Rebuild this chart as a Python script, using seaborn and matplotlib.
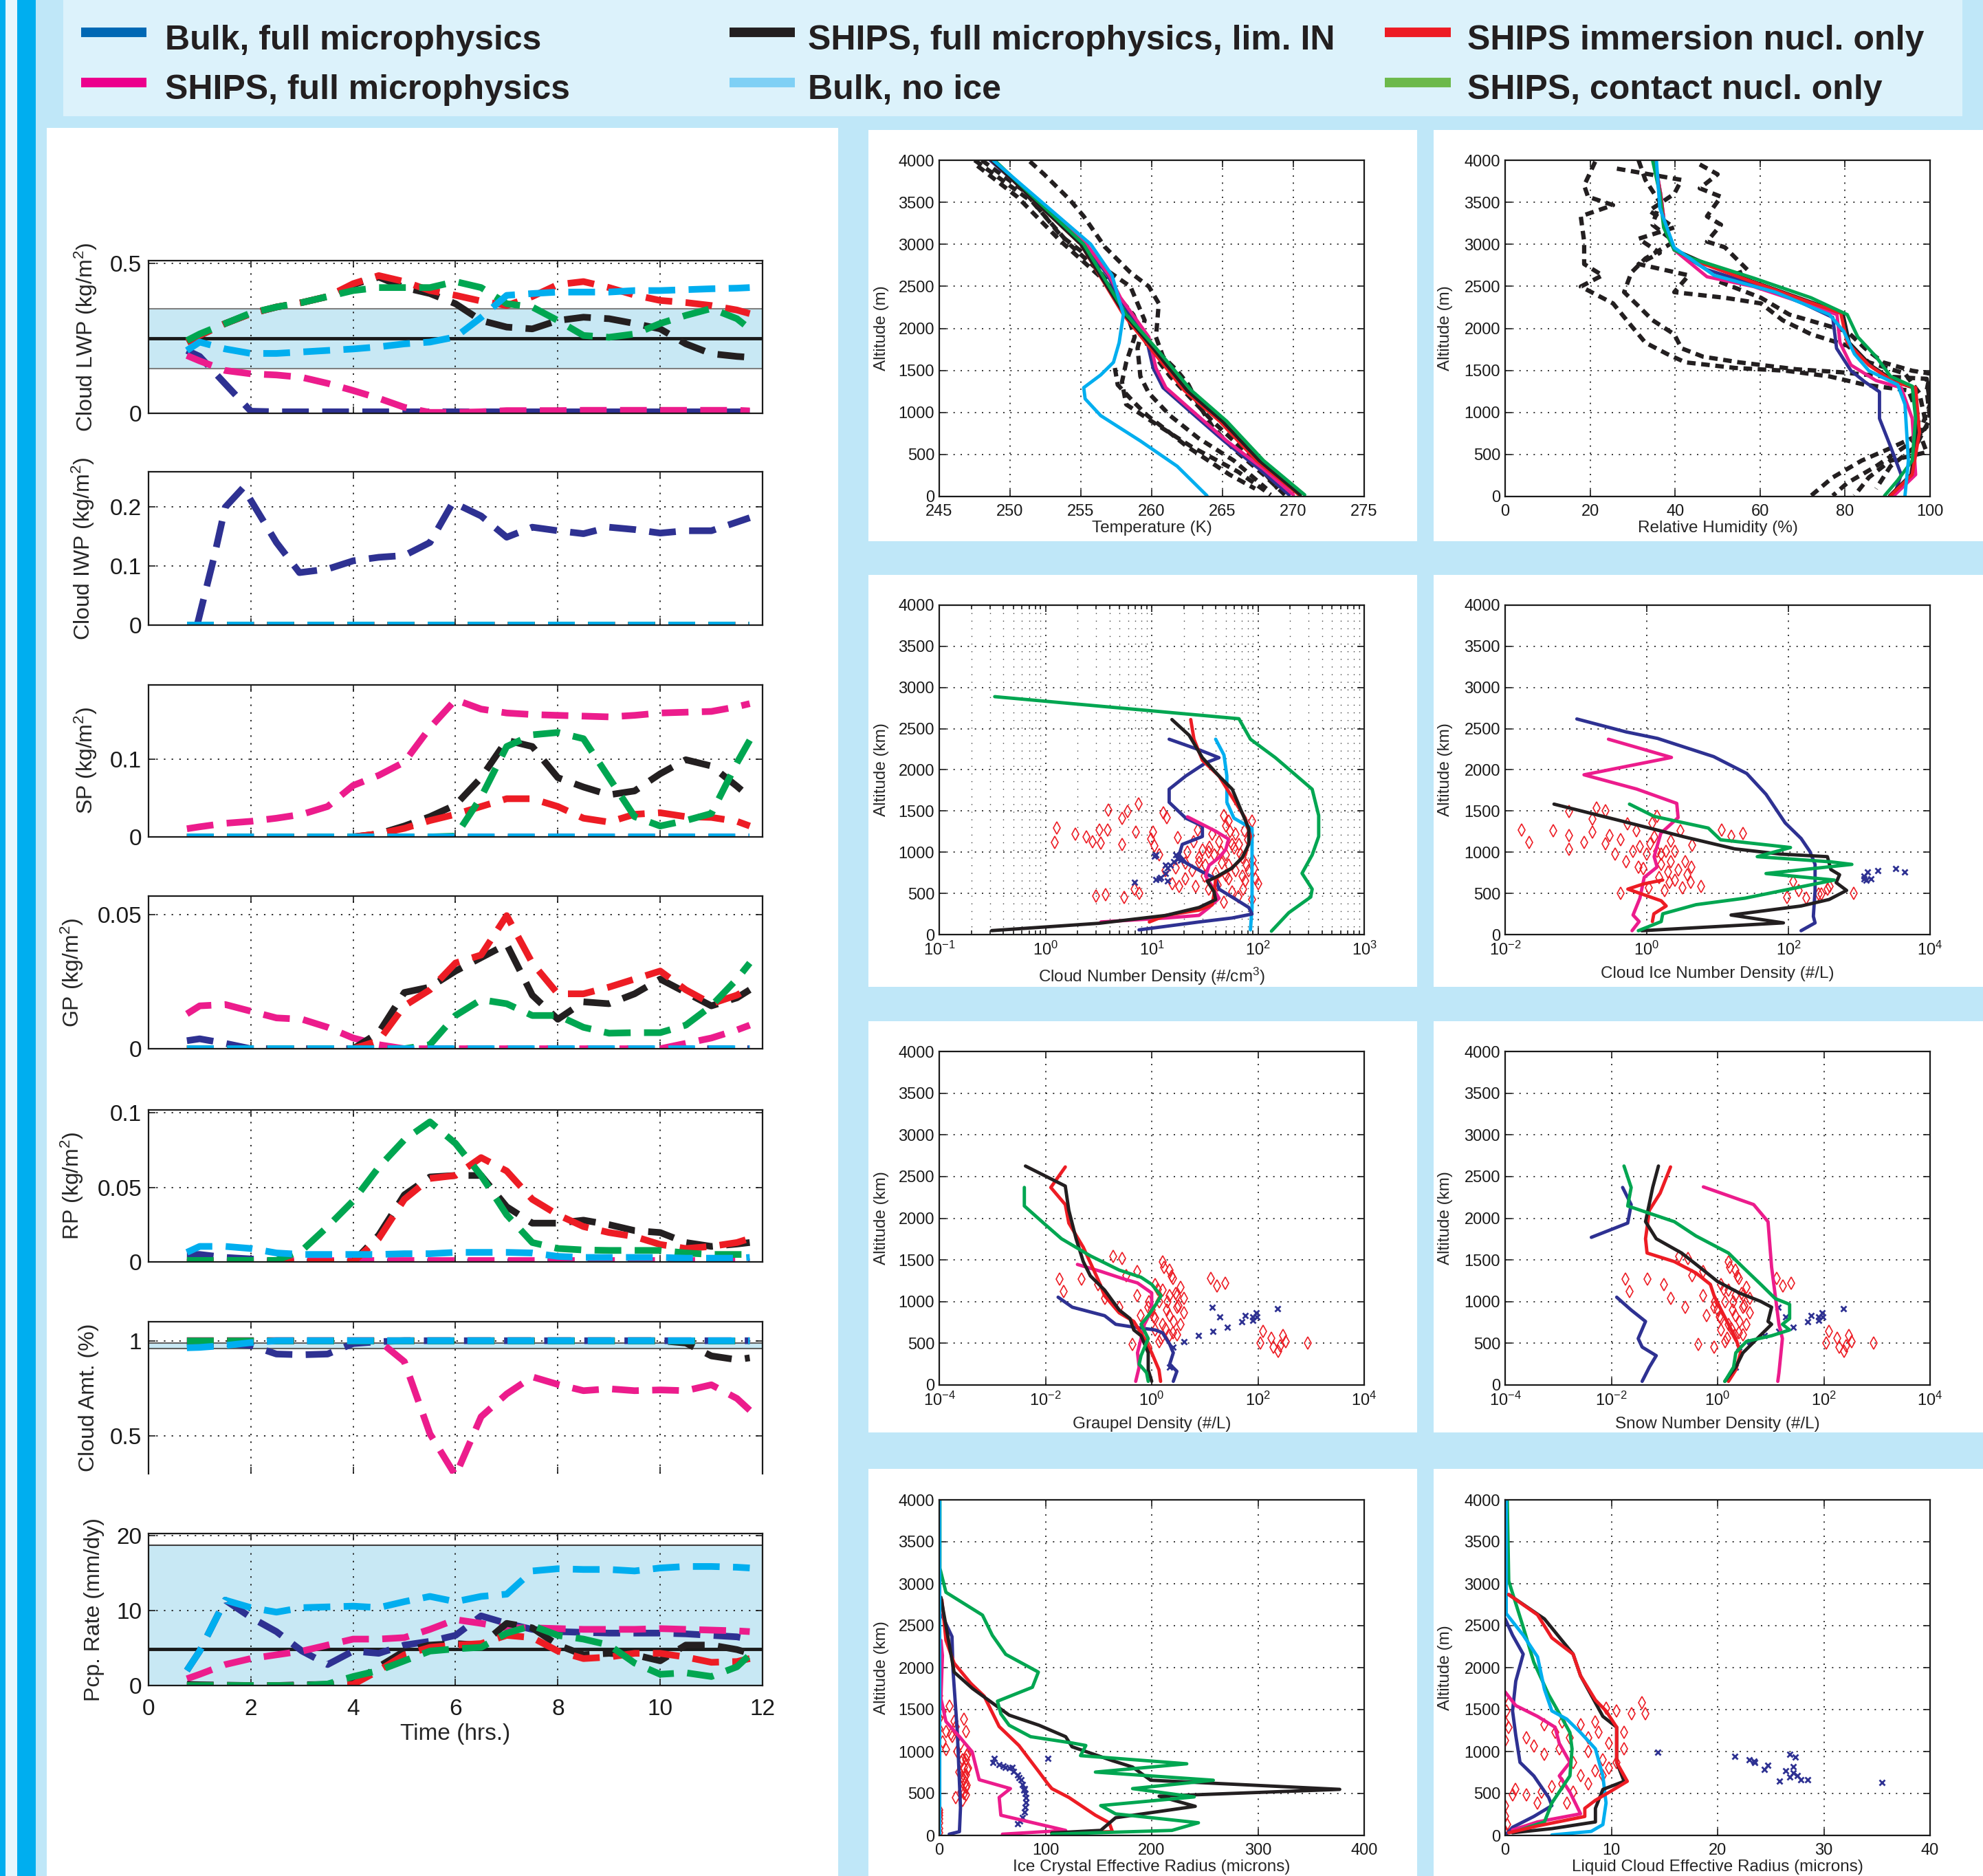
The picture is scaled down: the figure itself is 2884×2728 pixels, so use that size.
import matplotlib
matplotlib.use("Agg")
import matplotlib.pyplot as plt
import seaborn as sns
from matplotlib.patches import Rectangle
from matplotlib.lines import Line2D
from matplotlib.ticker import NullLocator

# ---------------------------------------------------------------- legend
LEG_LABELS = ["Bulk, full microphysics", "SHIPS, full microphysics",
              "SHIPS, full microphysics, lim. IN", "Bulk, no ice",
              "SHIPS immersion nucl. only", "SHIPS, contact nucl. only"]
LEG_COLORS = ["#0068b4", "#ec008c", "#231f20", "#7fd0f5", "#ed1c24", "#6cb94b"]

C_NAVY, C_MAG, C_BLK = "#2e3192", "#ec1c8c", "#231f20"
C_CYAN, C_RED, C_GRN = "#00aeef", "#ed1c24", "#00a651"

# ---------------------------------------------------------------- time series
T = [0.75, 1.0, 1.5, 2.0, 2.5, 3.0, 3.5, 4.0, 4.5, 5.0, 5.5, 6.0, 6.5, 7.0, 7.5, 8.0,
     8.5, 9.0, 9.5, 10.0, 10.5, 11.0, 11.5, 11.75]
ZERO = [0, 0, 0, 0, 0, 0, 0, 0, 0, 0, 0, 0, 0, 0, 0, 0, 0, 0, 0, 0, 0, 0, 0, 0]
ONE = [1, 1, 1, 1, 1, 1, 1, 1, 1, 1, 1, 1, 1, 1, 1, 1, 1, 1, 1, 1, 1, 1, 1, 1]

lwp_navy = [.21, .19, .098, .007, .005, .005, .005, .005, .005, .005, .005, .005, .005, .005, .005, .005, .005, .005, .005, .005, .005, .005, .005, .005]
lwp_mag = [.193, .175, .143, .132, .128, .12, .10, .076, .05, .02, .003, .003, .005, .009, .009, .009, .01, .01, .01, .01, .01, .01, .01, .008]
lwp_blk = [.238, .26, .30, .333, .355, .37, .39, .43, .455, .42, .40, .366, .31, .288, .282, .31, .321, .316, .30, .282, .232, .199, .19, .187]
lwp_red = [.238, .26, .30, .333, .355, .37, .39, .433, .46, .44, .41, .394, .375, .36, .39, .43, .44, .42, .395, .377, .37, .36, .345, .333]
lwp_grn = [.243, .265, .30, .335, .355, .37, .39, .41, .42, .42, .42, .44, .42, .366, .355, .31, .26, .254, .265, .30, .327, .35, .316, .282]
lwp_cyan = [.21, .238, .215, .20, .20, .205, .21, .215, .222, .232, .238, .255, .32, .394, .40, .405, .405, .405, .41, .41, .413, .416, .418, .42]
lwp_band = [0.15, 0.35]
lwp_mean = 0.25

t_iwp = [0.95, 1.28, 1.5, 1.85, 2.5, 2.95, 3.5, 4.0, 4.5, 5.0, 5.5, 5.95, 6.5, 7.0, 7.5,
         8.0, 8.5, 9.0, 9.5, 10.0, 10.5, 11.0, 11.75]
iwp_navy = [0.0, 0.115, 0.2, 0.233, 0.14, 0.089, 0.095, 0.109, 0.115, 0.118, 0.14, 0.208, 0.185, 0.149, 0.166, 0.16, 0.155, 0.166, 0.162, 0.156, 0.16, 0.16, 0.182]

sp_mag = [.0105, .013, .0175, .02, .024, .029, .039, .066, .079, .096, .14, .176, .164, .159, .157, .156, .155, .154, .156, .159, .16, .161, .167, .171]
sp_blk = [0, 0, 0, 0, 0, 0, 0, 0, .004, .014, .026, .041, .076, .124, .116, .076, .064, .054, .059, .081, .099, .091, .065, .051]
sp_grn = [0, 0, 0, 0, 0, 0, 0, 0, 0, 0, 0, .001, .051, .116, .131, .134, .126, .076, .026, .014, .021, .03, .095, .124]
sp_red = [0, 0, 0, 0, 0, 0, 0, 0, .004, .011, .021, .029, .039, .049, .049, .039, .024, .019, .029, .031, .026, .025, .02, .014]

gp_mag = [.013, .016, .0165, .014, .0115, .011, .008, .004, .0015, 0, 0, 0, 0, 0, 0, 0, 0, 0, 0, 0, .002, .004, .007, .0088]
gp_navy = [.003, .0037, .002, 0, 0, 0, 0, 0, 0, 0, 0, 0, 0, 0, 0, 0, 0, 0, 0, 0, 0, 0, 0, 0]
gp_blk = [0, 0, 0, 0, 0, 0, 0, 0, .006, .021, .023, .029, .034, .039, .02, .011, .0175, .0168, .0205, .026, .021, .016, .019, .022]
gp_red = [0, 0, 0, 0, 0, 0, 0, 0, .003, .016, .022, .032, .035, .0497, .032, .0205, .0205, .023, .026, .029, .022, .0168, .02, .0227]
gp_grn = [0, 0, 0, 0, 0, 0, 0, 0, 0, 0, .0015, .0124, .0183, .0168, .0124, .0124, .008, .0058, .006, .006, .0088, .016, .026, .032]

rp_grn = [.001, .001, .001, .001, .001, .0077, .0237, .041, .0636, .082, .094, .0795, .058, .0316, .013, .009, .008, .0077, .0077, .0077, .006, .005, .005, .005]
rp_blk = [0, 0, 0, 0, 0, 0, 0, 0, .018, .045, .057, .058, .058, .037, .026, .026, .028, .025, .021, .0197, .013, .0104, .012, .013]
rp_red = [0, 0, 0, 0, 0, 0, 0, 0, .0157, .042, .056, .058, .070, .061, .042, .0316, .0237, .0197, .017, .0117, .009, .0104, .013, .0157]
rp_cyan = [.0064, .0104, .0104, .009, .006, .005, .005, .005, .005, .0055, .0055, .0064, .0064, .0064, .006, .0037, .003, .003, .003, .003, .0025, .0025, .0025, .003]
rp_navy = [.005, .005, .003, .002, 0, 0, 0, 0, 0, 0, 0, 0, 0, 0, 0, 0, 0, 0, 0, 0, 0, 0, 0, 0]
rp_mag = [.001, .001, .001, .001, .001, .001, .001, .001, .001, .001, .001, .001, .001, .001, .001, .001, .001, .001, .001, .001, .001, .001, .001, .001]

ca_cyan = [.963, .965, .975, .99, 1, 1, 1, 1, 1, 1, 1, 1, 1, 1, 1, 1, 1, 1, 1, 1, 1, 1, 1, 1]
ca_navy = [.975, .978, .985, .975, .93, .926, .93, .985, .995, 1, 1, 1, 1, 1, 1, 1, 1, 1, 1, 1, 1, 1, 1, 1]
ca_mag = [1, 1, 1, 1, 1, 1, 1, 1, 1, .89, .51, .29, .6, .72, .81, .77, .737, .747, .737, .741, .737, .768, .696, .634]
ca_blk = [1, 1, 1, 1, 1, 1, 1, 1, 1, 1, 1, 1, 1, 1, 1, 1, 1, 1, 1, 1, .988, .92, .9, .91]
ca_band = [0.96, 0.987]

pcp_cyan = [2.0, 4.6, 11.4, 10.4, 9.8, 10.4, 10.5, 10.6, 10.4, 11.2, 11.9, 11.2, 11.9, 12.2, 15.3, 15.6, 15.5, 15.5, 15.3, 15.7, 15.9, 15.9, 15.8, 15.7]
pcp_navy = [2.0, 4.6, 11.4, 9.1, 7.2, 4.6, 2.8, 4.6, 4.3, 5.4, 5.9, 6.7, 9.3, 8.3, 7.5, 7.2, 7.1, 7.0, 7.0, 7.0, 6.9, 6.7, 6.5, 6.2]
pcp_mag = [0.9, 1.5, 2.8, 3.6, 4.1, 4.6, 5.4, 6.2, 6.2, 6.4, 7.5, 8.8, 8.3, 7.7, 7.7, 7.6, 7.5, 7.5, 7.5, 7.6, 7.5, 7.4, 7.3, 7.2]
pcp_blk = [0.15, 0.1, 0.05, 0, 0, 0.1, 0.15, 0.4, 2.5, 4.6, 5.4, 5.6, 5.4, 8.3, 7.7, 5.4, 4.1, 4.3, 4.1, 3.3, 5.4, 5.4, 4.8, 4.3]
pcp_red = [0, 0, 0, 0, 0, 0, 0, 0.15, 2.0, 4.1, 5.1, 5.4, 5.6, 6.7, 6.4, 4.6, 3.6, 3.8, 4.3, 4.3, 3.8, 3.1, 3.2, 3.6]
pcp_grn = [0, 0, 0, 0, 0, 0, 0.2, 1.2, 2.0, 3.3, 4.6, 4.9, 5.1, 7.0, 8.0, 6.7, 6.2, 5.4, 3.0, 1.5, 1.7, 1.2, 2.5, 4.1]
pcp_band = [0, 18.7]
pcp_mean = 4.9

# ---------------------------------------------------------------- temperature profiles
tm_grn_x = [248.9, 255.2, 258.2, 260.3, 262.8, 265.3, 267.9, 270.8]
tm_grn_z = [4000, 3000, 2165, 1765, 1262, 895, 427, 20]
tm_blk_x = [248.7, 255.0, 258.1, 260.1, 262.5, 265.0, 267.6, 270.5]
tm_red_x = [248.7, 255.0, 258.0, 259.9, 262.3, 264.8, 267.4, 270.4]
tm_mag_x = [248.7, 255.4, 257.0, 257.8, 259.8, 260.3, 261.0, 262.8, 265.3, 267.9, 270.0]
tm_mag_z = [4000, 3000, 2630, 2364, 1897, 1529, 1295, 1028, 661, 327, 20]
tm_navy_x = [248.6, 255.3, 256.9, 257.7, 259.6, 260.1, 260.8, 262.6, 265.1, 267.6, 269.7]
tm_cyan_x = [248.8, 255.7, 257.2, 258.0, 257.7, 257.3, 256.4, 255.2, 255.3, 256.4, 259.2, 261.8, 263.9]
tm_cyan_z = [4000, 3000, 2630, 2165, 1830, 1596, 1446, 1295, 1162, 962, 661, 360, 10]
to1_x = [247.5, 251.6, 254.2, 256.4, 258.0, 258.8, 258.2, 257.9, 258.2, 260.3, 262.8, 266.1, 268.4]
to1_z = [4000, 3500, 3000, 2664, 2300, 1900, 1596, 1362, 1095, 861, 594, 294, 20]
to2_x = [248, 251, 253.6, 256.2, 258.5, 259.5, 259, 259.2, 259.8, 261.3, 263.3, 265.8, 268.1]
to2_z = [4000, 3633, 3100, 2765, 2497, 2097, 1763, 1429, 1229, 962, 694, 427, 93]
to3_x = [251.4, 252.4, 254.2, 255.2, 256.7, 258.5, 259.8, 260.5, 260.3, 260.8, 261.8, 262.6, 263.3, 264.3, 265.8, 267.9, 269.4]
to3_z = [3985, 3833, 3533, 3333, 2967, 2664, 2497, 2297, 1897, 1663, 1496, 1329, 1095, 828, 561, 260, 20]
to4_x = [247.7, 250.5, 253.6, 256.7, 258.7, 259.8, 261.3, 262.8, 264.3, 265.8, 267.4, 268.9]
to4_z = [3933, 3566, 3033, 2564, 2164, 1763, 1429, 1162, 895, 661, 394, 93]
to5_x = [257.4, 257.6, 258.7, 259.7, 261, 262.5, 264, 265.5, 267.3]
to5_z = [1529, 1329, 1129, 962, 795, 594, 427, 260, 93]

# ---------------------------------------------------------------- relative humidity
rh_grn_x = [34.7, 36.4, 37.3, 39.8, 44, 58.5, 72, 80.5, 83, 87.3, 90.7, 95.8, 96.6, 95.8, 92.4, 89.3]
rh_grn_z = [4000, 3600, 3200, 2933, 2831, 2598, 2364, 2164, 1897, 1663, 1429, 1312, 928, 427, 194, 10]
rh_red_x = [35, 36.5, 37.5, 39.8, 45, 57.6, 70.5, 79, 80.5, 85.6, 91.5, 96.6, 97.5, 95.8, 90.7]
rh_red_z = [4000, 3600, 3200, 2933, 2798, 2564, 2331, 2180, 1830, 1563, 1362, 1295, 761, 260, 10]
rh_blk_x = [35, 36.5, 37.5, 40, 46, 58, 71, 79.5, 81, 86, 92, 96, 97, 95.5, 90.5]
rh_mag_x = [35.2, 36.6, 37.6, 39.8, 47.5, 58.5, 70.5, 78.1, 78.8, 81.4, 87.3, 93.2, 95.8, 96.6, 91.5]
rh_mag_z = [4000, 3600, 3200, 2933, 2614, 2497, 2297, 2164, 1830, 1563, 1379, 1295, 928, 260, 10]
rh_navy_x = [35.2, 36.6, 37.6, 39.8, 47.5, 60, 70, 77.1, 78, 81.4, 84.7, 88.1, 88.1, 90.7, 93.2, 91.5]
rh_navy_z = [4000, 3600, 3200, 2933, 2698, 2500, 2300, 2130, 1763, 1496, 1362, 1245, 928, 594, 260, 10]
rh_cyan_x = [35.6, 36.4, 39.8, 49.2, 63.6, 76.3, 79.7, 82.2, 85.6, 92.4, 94.1, 94.9, 94.1]
rh_cyan_z = [4000, 3433, 2960, 2631, 2431, 2164, 1964, 1696, 1496, 1329, 1095, 427, 10]
ro1_x = [21.2, 18.6, 19.5, 25.4, 17.8, 18.6, 18.6, 22.9, 17.8, 25.4, 29.7, 33, 38.1, 42.4, 54.2, 66.1, 76.3, 84.7, 94.9, 97.5, 96, 90, 83.9, 77.1, 72]
ro1_z = [3983, 3700, 3566, 3466, 3333, 3033, 2765, 2631, 2497, 2297, 2030, 1830, 1696, 1596, 1529, 1496, 1429, 1329, 1262, 928, 700, 560, 427, 227, 10]
ro2_x = [31.4, 33, 36.4, 34.7, 39.8, 33, 29.7, 28, 31.4, 34.7, 39.8, 41.5, 46.6, 55.1, 68.6, 78.8, 88.9, 99.2, 100, 97.5, 99.2, 90.7, 85.6, 82.2]
ro2_z = [4000, 3766, 3500, 3232, 3032, 2831, 2664, 2431, 2264, 2097, 1930, 1763, 1663, 1596, 1513, 1479, 1429, 1400, 1095, 761, 527, 427, 227, 10]
ro3_x = [45.8, 50, 45.8, 50.8, 47.5, 50.8, 47.5, 51.7, 57, 50, 60.2, 66.9, 73.7, 80.5, 84.7, 88.9, 95.8, 100, 99.2, 100, 96.6, 90.7, 87.3]
ro3_z = [3950, 3833, 3666, 3566, 3333, 3233, 3032, 2965, 2698, 2564, 2364, 2164, 2064, 1964, 1763, 1596, 1496, 1462, 1262, 928, 594, 360, 93]
ro4_x = [26.3, 41.5, 39.8, 33.9, 39.8, 31.4, 36.4, 31.4, 43.2, 39.8, 51.7, 60.2, 65.3, 72, 80.5, 85.6, 94.1, 97.5, 99.2, 94.1, 87.3, 80.5, 77.1]
ro4_z = [3900, 3766, 3600, 3400, 3200, 3066, 2898, 2765, 2631, 2431, 2364, 2297, 2097, 1930, 1796, 1596, 1462, 1229, 828, 594, 360, 160, 10]

# ---------------------------------------------------------------- cloud number density
cn_grn_x = [0.333, 66.2, 85, 146, 324, 373, 373, 324, 260, 324, 314, 195, 134]
cn_grn_z = [2889, 2621, 2372, 2148, 1765, 1446, 1191, 967, 744, 552, 456, 265, 41]
cn_blk_x = [15.5, 22.5, 30, 43, 57.3, 71, 82, 82, 71, 57, 40, 33.4, 38.6, 40, 27.9, 13.6, 3.2, 0.312]
cn_blk_z = [2611, 2420, 2148, 1925, 1765, 1478, 1286, 1095, 935, 808, 696, 648, 520, 425, 329, 233, 137, 48]
cn_red_x = [23.3, 25, 30, 43, 57, 76, 85, 76, 57, 40, 38.6, 37, 27.9, 13.6, 9.5]
cn_red_z = [2611, 2372, 2116, 1925, 1670, 1414, 1191, 967, 808, 680, 488, 361, 297, 233, 153]
cn_mag_x = [21.7, 40, 53, 49.7, 43, 34.7, 32.2, 37, 43, 34.7, 27.9, 13.6, 3.33]
cn_mag_z = [1430, 1255, 1159, 1031, 935, 840, 712, 584, 441, 329, 233, 201, 153]
cn_navy_x = [14.6, 27.9, 43, 32.2, 20.9, 14.6, 14.6, 20.9, 30, 30, 19.4, 18.1, 20.9, 30, 40, 43, 57, 82, 88, 57, 27.9, 7.6]
cn_navy_z = [2372, 2244, 2148, 2085, 1925, 1765, 1606, 1414, 1318, 1191, 1095, 967, 872, 760, 680, 552, 456, 329, 249, 201, 153, 57]
cn_cyan_x = [40, 47.9, 51, 51, 59.4, 88, 88, 88, 88, 85]
cn_cyan_z = [2372, 2180, 1925, 1606, 1414, 1286, 967, 648, 329, 57]
cn_obs_x = [1.28, 1.22, 1.91, 2.41, 2.78, 3.2, 3.33, 3.86, 3.9, 5.25, 5.94, 7.5, 5.3, 7.1, 2.99, 3.7, 5.5, 6.86, 7.6, 12.8,
            13.9, 10.3, 9.8, 10.6, 11.8, 13.5, 15.6, 16.8, 17.5, 21.7, 25, 27.9, 27, 32.2, 37, 38.6, 43, 47.9, 49.7, 55,
            53, 61.7, 66.2, 49.7, 53, 61.7, 71, 76, 78.5, 88, 95, 88, 57, 47.9, 34.7, 26, 20.9, 18.1, 31.3, 40,
            24.2, 20.9, 34.7, 30, 57, 71, 82, 73, 53, 46, 45, 60, 80, 90, 100, 65, 35, 42, 75, 92, 28, 50, 68, 85]
cn_obs_z = [1296, 1117, 1223, 1184, 1127, 1271, 1111, 1271, 1510, 1408, 1494, 1590, 1095, 1248, 466, 488, 450, 552, 504, 1478,
            1421, 1248, 1159, 1079, 967, 776, 616, 808, 1175, 999, 1127, 935, 1271, 840, 1223, 967, 1127, 1446, 1318, 1255,
            1382, 1223, 1095, 967, 840, 776, 712, 648, 840, 1382, 680, 424, 520, 392, 552, 584, 680, 584, 712, 744,
            776, 872, 999, 1031, 1095, 935, 776, 552, 680, 872, 1000, 1050, 1150, 900, 620, 460, 1060, 600, 1260, 800, 880, 720, 980, 1200]
cn_x_x = [10.6, 11, 11.8, 13.5, 14, 15, 16.2, 17.5, 18.7, 14, 12.2, 6.86, 16.8, 13.5, 11]
cn_x_z = [951, 664, 680, 744, 808, 840, 887, 919, 903, 648, 696, 632, 967, 840, 967]

# ---------------------------------------------------------------- cloud ice number density
ci_navy_x = [0.103, 0.51, 1.42, 8.8, 25.8, 48.3, 90, 151, 201, 238, 238, 225, 238, 151]
ci_navy_z = [2618, 2461, 2382, 2161, 1956, 1703, 1356, 1167, 1009, 852, 536, 221, 142, 47]
ci_mag_x = [0.288, 2.23, 0.13, 0.72, 2.65, 2.77, 1.58, 1.27, 1.4, 0.92, 0.8, 0.64, 0.78, 0.62]
ci_mag_z = [2372, 2151, 1940, 1767, 1593, 1420, 1230, 946, 820, 694, 442, 237, 158, 47]
ci_red_x = [1.68, 0.9, 0.54, 1.6, 1.88, 1.26, 1.2]
ci_red_z = [662, 615, 552, 410, 347, 252, 158]
ci_blk_x = [0.049, 0.4, 3.5, 17.4, 76, 355, 398, 528, 472, 663, 376, 151, 15.5, 85, 0.85]
ci_blk_z = [1584, 1388, 1183, 1041, 978, 946, 789, 726, 631, 536, 426, 347, 237, 142, 47]
ci_grn_x = [0.57, 1.27, 7.4, 11, 107, 36.3, 398, 787, 48.3, 445, 24.4, 4.96, 1.68, 1.6, 0.76]
ci_grn_z = [1584, 1435, 1293, 1151, 1057, 946, 883, 852, 741, 662, 442, 363, 252, 158, 47]
ci_obs_x = [0.017, 0.022, 0.048, 0.08, 0.08, 0.08, 0.13, 0.17, 0.17, 0.194, 0.26, 0.26, 0.3, 0.36, 0.43, 0.43, 0.51, 0.54, 0.64, 0.72,
            0.76, 0.8, 1.0, 1.07, 1.2, 1.27, 1.4, 1.4, 1.6, 1.78, 1.88, 2.0, 2.2, 2.5, 2.5, 3.0, 2.8, 3.2, 3.5, 3.7,
            4.2, 4.3, 4.4, 5.9, 11.5, 15.8, 23, 95, 117, 141, 178, 270, 355, 380, 290, 832, 1.12, 0.9, 1.5, 2.1, 1.6, 2.2]
ci_obs_z = [1268, 1120, 1262, 1498, 1035, 1199, 1120, 1246, 1404, 1539, 1505, 1104, 1199, 978, 1151, 505, 883, 1341, 1009, 1262,
            820, 1072, 978, 568, 1356, 1183, 1009, 1435, 852, 536, 1009, 757, 883, 662, 1009, 1262, 789, 568, 883, 726,
            631, 820, 1088, 584, 1268, 1192, 1224, 448, 647, 536, 442, 489, 552, 584, 489, 505, 1104, 804, 694, 631, 978, 1135]
ci_x_x = [1175, 1300, 1450, 1240, 1810, 3270, 4340, 1175]
ci_x_z = [710, 757, 678, 662, 773, 804, 757, 678]

# ---------------------------------------------------------------- graupel / snow
gr_blk_x = [0.0042, 0.0236, 0.0275, 0.0377, 0.0515, 0.070, 0.13, 0.245, 0.39, 0.46, 0.63, 0.86, 0.86, 1.0]
gr_blk_z = [2626, 2386, 2096, 1754, 1480, 1309, 1138, 899, 797, 660, 591, 386, 181, 44]
gr_red_x = [0.0236, 0.0126, 0.0236, 0.0275, 0.0515, 0.096, 0.13, 0.245, 0.46, 0.73, 1.0, 1.37, 1.47]
gr_red_z = [2615, 2369, 2164, 1942, 1651, 1275, 1070, 865, 762, 557, 386, 181, 44]
gr_grn_x = [0.004, 0.004, 0.0092, 0.02, 0.07, 0.245, 0.63, 1.0, 1.5, 1.2, 0.86, 0.63, 0.86, 0.63, 0.58, 0.8, 0.86]
gr_grn_z = [2369, 2147, 1942, 1754, 1549, 1378, 1292, 1207, 1070, 967, 831, 728, 557, 352, 250, 147, 44]
gr_mag_x = [0.04, 0.112, 0.287, 0.54, 1.0, 1.0, 0.73, 0.63, 0.54, 0.58, 0.5]
gr_mag_z = [1446, 1361, 1275, 1224, 1104, 899, 728, 557, 386, 215, 44]
gr_navy_x = [0.0173, 0.032, 0.13, 0.21, 0.46, 1.17, 1.6, 2.18, 2.55, 2.18, 2.98, 2.55]
gr_navy_z = [1053, 933, 831, 728, 694, 660, 626, 489, 386, 250, 164, 44]
gs_obs_x = [0.0183, 0.022, 0.048, 0.097, 0.19, 0.28, 0.33, 0.53, 0.13, 0.245, 0.43, 0.86, 1.17, 1.6, 2.2, 2.98, 4.07, 3.5, 2.55, 2.2,
            1.6, 1.17, 1.7, 3.5, 2.55, 4.07, 2.98, 0.86, 0.63, 0.54, 1.37, 1.9, 1.17, 2.2, 2.2, 1.37, 1.6, 13, 17, 24,
            126, 110, 195, 260, 300, 330, 875, 180, 240, 1.0, 1.3, 2.0, 2.6, 3.2, 1.8, 1.1, 2.4, 3.0, 1.5, 0.9, 2.8]
gs_obs_z = [1268, 1121, 1268, 1207, 1542, 1514, 1309, 1361, 1036, 933, 489, 455, 660, 728, 831, 933, 1036, 1173, 1275, 1378,
            1480, 1207, 1412, 728, 626, 865, 1070, 933, 831, 1070, 1002, 899, 797, 1070, 591, 523, 1138, 1275, 1190, 1224,
            643, 506, 455, 472, 591, 523, 506, 557, 403, 900, 1150, 1000, 760, 950, 680, 820, 1300, 600, 560, 1000, 1100]
gs_x_x = [2.2, 2.55, 4.07, 7.6, 14.2, 26.6, 49.5, 79, 92, 13.7, 19, 236, 58, 79, 97]
gs_x_z = [215, 455, 523, 591, 643, 694, 762, 814, 865, 933, 814, 916, 831, 779, 814]

sn_grn_x = [0.0173, 0.0236, 0.0203, 0.153, 0.39, 1.6, 3.0, 6.5, 12.2, 22.7, 22.7, 16.6, 22.7, 10.4, 3.5, 2.2, 2.0, 1.37]
sn_grn_z = [2626, 2369, 2147, 1959, 1788, 1583, 1412, 1207, 1036, 967, 797, 728, 660, 591, 523, 386, 215, 44]
sn_blk_x = [0.077, 0.06, 0.044, 0.07, 0.21, 0.54, 1.0, 2.55, 6.5, 10.4, 8.9, 10.4, 5.57, 3.0, 2.2, 1.37]
sn_blk_z = [2626, 2369, 1959, 1754, 1583, 1378, 1241, 1104, 1002, 933, 762, 728, 557, 386, 215, 44]
sn_red_x = [0.13, 0.083, 0.052, 0.044, 0.047, 0.153, 0.39, 0.73, 0.86, 1.17, 1.6, 2.2, 2.7, 2.2, 1.6]
sn_red_z = [2615, 2301, 2096, 1754, 1583, 1480, 1344, 1207, 1070, 899, 728, 557, 386, 181, 44]
sn_mag_x = [0.54, 4.77, 8.9, 10.4, 12.2, 14.3, 16.6, 14.3, 13.6]
sn_mag_z = [2376, 2164, 1959, 1412, 1070, 728, 557, 147, 44]
sn_navy1_x = [0.0163, 0.0236, 0.0203, 0.0042]
sn_navy1_z = [2369, 2164, 1942, 1771]
sn_navy2_x = [0.0126, 0.0236, 0.044, 0.032, 0.038, 0.07, 0.052, 0.038]
sn_navy2_z = [1053, 899, 762, 557, 455, 352, 215, 44]

# ---------------------------------------------------------------- ice crystal effective radius
ir_grn_x = [0.6, 0.6, 6.3, 40.7, 50, 62.6, 93.3, 87.7, 54.8, 58, 65.8, 86, 125, 138, 133, 233, 147, 258, 182, 240, 152, 166, 244, 219, 106]
ir_grn_z = [4000, 3185, 2898, 2626, 2385, 2158, 1947, 1766, 1600, 1449, 1313, 1177, 1102, 1072, 951, 854, 755, 658, 558, 459, 356, 257, 151, 60, 15]
ir_blk_x = [1.6, 14, 31.3, 65.8, 94, 119, 125, 163, 182, 199, 377, 207, 241, 166, 152, 106]
ir_blk_z = [2838, 1947, 1751, 1434, 1313, 1177, 1057, 891, 815, 658, 549, 468, 347, 211, 60, 30]
ir_red_x = [2.5, 6.3, 14, 29.8, 42.3, 56.4, 75, 94, 102, 106, 122, 147, 160, 163, 106]
ir_red_z = [2808, 2325, 2053, 1811, 1660, 1298, 1072, 755, 619, 558, 453, 241, 151, 45, 30]
ir_navy_x = [2.5, 12, 13, 15, 17, 19, 20, 19, 9.4]
ir_navy_z = [2626, 2370, 1962, 1600, 1238, 634, 332, 45, 15]
ir_mag_x = [1.6, 3, 1.6, 6.3, 19, 31, 37.6, 67, 56.4, 58, 119, 59.5]
ir_mag_z = [2325, 2143, 1630, 1358, 1177, 996, 664, 558, 453, 241, 60, 15]
ir_cyan_x = [0.6, 0.6]
ir_cyan_z = [4000, 0]
ir_x_x = [51.7, 56.4, 65.8, 73.6, 78.3, 81.4, 80.8, 78.3, 73.6, 102, 68.9, 76.7, 79.9, 81.4, 50.7, 60, 70, 75, 80, 81, 80, 76, 62]
ir_x_z = [921, 845, 800, 724, 604, 453, 332, 211, 136, 921, 815, 664, 543, 392, 870, 830, 760, 690, 560, 500, 280, 170, 810]
ir_obs_x = [0, 0, 0, 0, 0, 0, 0, 0, 3, 6.3, 9.4, 14, 12.5, 17, 20, 23.5, 25, 20.4, 23.5, 25, 24.4, 22, 25, 22, 15.7,
            26.6, 18.8, 23.5, 25, 20.4, 6.3, 11, 15.7, 3, 22, 26.6, 21.3, 26, 24, 27, 25, 23, 26, 0, 0, 0]
ir_obs_z = [30, 151, 241, 302, 1660, 1540, 1390, 1268, 1117, 1238, 1540, 1358, 1177, 996, 1087, 1389, 1238, 875, 815, 724, 634, 543, 483, 422, 453,
            966, 755, 664, 574, 513, 1026, 1208, 1298, 1479, 905, 785, 694, 600, 700, 800, 900, 500, 950, 80, 200, 270]

# ---------------------------------------------------------------- liquid cloud effective radius
lr_red_x = [0.34, 3.05, 4.4, 6.4, 7.1, 8.5, 9.5, 10.5, 10.5, 11.5, 9.8, 8.5, 7.5, 7.5, 3.05, 0.34]
lr_red_z = [2871, 2629, 2355, 2161, 1903, 1613, 1484, 1290, 871, 645, 516, 419, 323, 226, 113, 32]
lr_blk_x = [0.34, 3.7, 6.4, 7.1, 8.5, 9.2, 10.5, 10.5, 11.2, 9.2, 8.5, 8.5, 4.4, 0.7]
lr_blk_z = [2871, 2581, 2161, 1903, 1581, 1419, 1290, 871, 645, 548, 323, 161, 81, 32]
lr_grn_x = [0.2, 0.34, 1.7, 2.7, 4.1, 5.4, 6.1, 6.3, 6.1, 4.4, 3.7, 1.0]
lr_grn_z = [4000, 3032, 2484, 2065, 1677, 1387, 1226, 1032, 710, 387, 161, 48]
lr_cyan_x = [0.1, 0.1, 1.7, 3.05, 3.7, 4.4, 5.8, 7.1, 8.5, 9.2, 9.5, 9.2, 8.1, 4.4]
lr_cyan_z = [4000, 2645, 2387, 2129, 1742, 1484, 1387, 1226, 1032, 710, 387, 129, 48, 6]
lr_navy_x = [0, 0.7, 1.7, 1.0, 0.7, 1.0, 1.4, 2.7, 4.1, 4.4, 2.7, 0.7, 0]
lr_navy_z = [2581, 2387, 2161, 1839, 1484, 1194, 871, 710, 452, 355, 226, 97, 0]
lr_mag_x = [0, 1.0, 3.05, 4.7, 5.1, 6.1, 5.1, 6.1, 7.1, 3.05, 0.7]
lr_mag_z = [1710, 1548, 1419, 1290, 1097, 871, 710, 516, 258, 161, 65]
lr_x_x = [14.4, 21.6, 23, 23.5, 24.7, 24.4, 26.8, 27.3, 26.4, 27.1, 27.5, 26.8, 25.8, 27.8, 28.5, 35.5, 27.1, 23.4]
lr_x_z = [994, 942, 903, 871, 839, 790, 968, 935, 774, 823, 710, 694, 645, 661, 661, 629, 742, 887]
lr_obs_x = [0, 0.1, 0, 0, 0.3, 2.0, 2.7, 3.7, 4.7, 5.4, 7.1, 7.8, 8.5, 9.5, 10.5, 11.9, 12.9, 13.2, 11.2, 11.2,
            9.8, 9.2, 7.8, 6.4, 7.1, 8.5, 9.8, 5.4, 4.4, 3.4, 2.0, 0.7, 1.0, 3.05, 5.8, 6.4, 7.8, 9.2, 10.5, 0,
            0, 0.2, 0, 5.1, 3.7, 6.1, 8.8]
lr_obs_z = [1645, 1484, 1355, 1129, 1290, 1161, 1065, 1323, 1226, 1355, 1323, 1161, 1355, 1516, 1484, 1452, 1581, 1452, 1226, 1032,
            1097, 903, 1000, 871, 710, 774, 806, 613, 581, 516, 484, 484, 548, 387, 387, 516, 613, 710, 871, 355,
            226, 129, 48, 1032, 968, 1161, 1226]

# ================================================================= drawing
sns.set_theme(style="white")
plt.rcParams["font.family"] = ["Liberation Sans", "DejaVu Sans"]
plt.rcParams["mathtext.fontset"] = "custom"
plt.rcParams["mathtext.rm"] = "Liberation Sans"
plt.rcParams["mathtext.it"] = "Liberation Sans:italic"
plt.rcParams["mathtext.bf"] = "Liberation Sans:bold"
plt.rcParams["axes.axisbelow"] = True

W, H = 2884, 2728
BG = "#bfe7f8"
GRID_LS = (0, (1.2, 5))
fig = plt.figure(figsize=(W / 100, H / 100), dpi=100)
fig.patch.set_facecolor(BG)


def rect(x0, y0, x1, y1, color):
    fig.add_artist(Rectangle((x0 / W, 1 - y1 / H), (x1 - x0) / W, (y1 - y0) / H,
                             transform=fig.transFigure, facecolor=color,
                             edgecolor="none", zorder=-5))


def axpx(x0, y0, x1, y1):
    return fig.add_axes([x0 / W, 1 - y1 / H, (x1 - x0) / W, (y1 - y0) / H])


# background decoration
rect(0, 0, 8, H, "#00aeef")
rect(8, 0, 25, H, "#e8f7fd")
rect(25, 0, 52, H, "#00aeef")
rect(92, 0, 2854, 169, "#dcf2fb")
rect(68, 186, 1219, H, "white")
for (cx0, cx1) in [(1263, 2061), (2085, 2884)]:
    for (ry0, ry1) in [(189, 787), (836, 1435), (1485, 2083), (2136, H)]:
        rect(cx0, ry0, cx1, ry1, "white")

# legend
leg_pos = [(118, 213, 240, 47, 72), (118, 213, 240, 120, 144),
           (1061, 1156, 1175, 47, 72), (1061, 1156, 1175, 120, 144),
           (2014, 2110, 2134, 47, 72), (2014, 2110, 2134, 120, 144)]
for lab, col, (hx0, hx1, tx, hy, by) in zip(LEG_LABELS, LEG_COLORS, leg_pos):
    fig.add_artist(Line2D([hx0 / W, hx1 / W], [1 - hy / H, 1 - hy / H], transform=fig.transFigure,
                          color=col, lw=10, solid_capstyle="butt"))
    fig.text(tx / W, 1 - by / H, lab, fontsize=36, fontweight="bold", color="#231f20",
             ha="left", va="baseline", family=["Liberation Sans", "DejaVu Sans"])

DASH = (0, (4, 2))


def dline(ax, x, y, c, lw=7):
    sns.lineplot(x=x, y=y, ax=ax, color=c, linewidth=lw, linestyle=DASH,
                 dash_capstyle="butt", sort=False, estimator=None, errorbar=None, legend=False)


def sline(ax, x, y, c, lw=3.5):
    sns.lineplot(x=x, y=y, ax=ax, color=c, linewidth=lw, sort=False, estimator=None,
                 errorbar=None, legend=False)


def oline(ax, x, y):
    sns.lineplot(x=x, y=y, ax=ax, color=C_BLK, linewidth=4.5, linestyle=(0, (2, 1.3)),
                 dash_capstyle="butt", sort=False, estimator=None, errorbar=None, legend=False)


def style(ax, labelsize, pad):
    for s in ax.spines.values():
        s.set_color("k")
        s.set_linewidth(1.6)
    ax.tick_params(axis="both", which="both", direction="in", top=True, right=True,
                   bottom=True, left=True, length=7, width=1.2, color="k",
                   labelsize=labelsize, pad=pad, labelcolor="k")
    ax.set_facecolor("white")


# ------------------------------------------------------------- left panel
left_rows = [(379, 601), (686, 909), (996, 1217), (1303, 1525), (1614, 1835), (1922, 2143), (2230, 2451)]
left_lab = ["Cloud LWP (kg/m$^2$)", "Cloud IWP (kg/m$^2$)", "SP (kg/m$^2$)", "GP (kg/m$^2$)",
            "RP (kg/m$^2$)", "Cloud Amt. (%)", "Pcp. Rate (mm/dy)"]
left_labx = [-0.081, -0.085, -0.081, -0.103, -0.103, -0.081, -0.072]
left_ylim = [(0, 0.51), (0, 0.26), (0, 0.195), (0, 0.057), (0, 0.102), (0.3, 1.1), (0, 20.3)]
left_yt = [([0, 0.5], ["0", "0.5"]), ([0, 0.1, 0.2], ["0", "0.1", "0.2"]), ([0, 0.1], ["0", "0.1"]),
           ([0, 0.05], ["0", "0.05"]), ([0, 0.05, 0.1], ["0", "0.05", "0.1"]),
           ([0.5, 1], ["0.5", "1"]), ([0, 10, 20], ["0", "10", "20"])]

lax = []
for i, (y0, y1) in enumerate(left_rows):
    ax = axpx(216, y0, 1109, y1)
    style(ax, 24, 7)
    ax.grid(True, ls=GRID_LS, color="k", lw=1.3)
    lax.append(ax)

# LWP
ax = lax[0]
ax.axhspan(lwp_band[0], lwp_band[1], facecolor="#c8e8f4", edgecolor="#808080", lw=1.5, zorder=0.1)
ax.axhline(lwp_mean, color="k", lw=3.5, zorder=1)
for y, c in [(lwp_navy, C_NAVY), (lwp_mag, C_MAG), (lwp_blk, C_BLK), (lwp_red, C_RED), (lwp_grn, C_GRN), (lwp_cyan, C_CYAN)]:
    dline(ax, T, y, c)
# IWP
ax = lax[1]
for c in [C_MAG, C_BLK, C_RED, C_GRN]:
    dline(ax, T, ZERO, c)
dline(ax, t_iwp, iwp_navy, C_NAVY)
dline(ax, T, ZERO, C_CYAN)
# SP
ax = lax[2]
for y, c in [(ZERO, C_NAVY), (sp_mag, C_MAG), (sp_blk, C_BLK), (sp_red, C_RED), (sp_grn, C_GRN), (ZERO, C_CYAN)]:
    dline(ax, T, y, c)
# GP
ax = lax[3]
for y, c in [(gp_navy, C_NAVY), (gp_mag, C_MAG), (gp_blk, C_BLK), (gp_red, C_RED), (gp_grn, C_GRN), (ZERO, C_CYAN)]:
    dline(ax, T, y, c)
# RP
ax = lax[4]
for y, c in [(rp_navy, C_NAVY), (rp_mag, C_MAG), (rp_blk, C_BLK), (rp_red, C_RED), (rp_grn, C_GRN), (rp_cyan, C_CYAN)]:
    dline(ax, T, y, c)
# Cloud amount
ax = lax[5]
ax.axhspan(ca_band[0], ca_band[1], facecolor="#c8e8f4", edgecolor="#606060", lw=1.5, zorder=0.1)
for y, c in [(ca_navy, C_NAVY), (ca_mag, C_MAG), (ca_blk, C_BLK), (ONE, C_RED), (ONE, C_GRN), (ca_cyan, C_CYAN)]:
    dline(ax, T, y, c)
ax.spines["bottom"].set_visible(False)
# Precip
ax = lax[6]
ax.axhspan(pcp_band[0], pcp_band[1], facecolor="#c8e8f4", edgecolor="#404040", lw=1.5, zorder=0.1)
ax.axhline(pcp_mean, color="k", lw=3.5, zorder=1)
for y, c in [(pcp_navy, C_NAVY), (pcp_mag, C_MAG), (pcp_blk, C_BLK), (pcp_red, C_RED), (pcp_grn, C_GRN), (pcp_cyan, C_CYAN)]:
    dline(ax, T, y, c)

for i, ax in enumerate(lax):
    ax.set_xlim(0, 12)
    ax.set_xticks([0, 2, 4, 6, 8, 10, 12])
    ax.set_ylim(*left_ylim[i])
    ax.set_yticks(left_yt[i][0])
    ax.set_yticklabels(left_yt[i][1])
    ax.set_ylabel(left_lab[i], fontsize=23)
    ax.yaxis.set_label_coords(left_labx[i], 0.5)
    ax.set_xlabel("")
    if i < 6:
        ax.tick_params(labelbottom=False)
    else:
        ax.tick_params(axis="x", pad=14)
        ax.set_xticklabels(["0", "2", "4", "6", "8", "10", "12"])
        ax.set_xlabel("Time (hrs.)", fontsize=24)
        ax.xaxis.set_label_coords(0.5, -0.25)

# ------------------------------------------------------------- right panels
cols = [(1366, 1984), (2189, 2807)]
rows = [(233, 722), (880, 1359), (1529, 2014), (2181, 2669)]


def rax(ci, ri, xlabel, ylabel, logx=False):
    x0, x1 = cols[ci]
    y0, y1 = rows[ri]
    ax = axpx(x0, y0, x1, y1)
    style(ax, 17, 5)
    ax.tick_params(axis="x", pad=7 if logx else 8)
    if logx:
        ax.set_xscale("log")
    ax._xl = xlabel
    ax._yl = ylabel
    ax._ci = ci
    ax._lg = logx
    return ax


def finish(ax):
    ax.set_ylim(0, 4000)
    ax.set_yticks(range(0, 4001, 500))
    ax.set_ylabel(ax._yl, fontsize=17.5)
    ax.yaxis.set_label_coords(-0.118 if ax._ci == 0 else -0.123, 0.5)
    ax.set_xlabel(ax._xl, fontsize=17.5)
    ax.xaxis.set_label_coords(0.5, -0.095 if ax._lg else -0.072)
    ax.grid(True, which="major", ls=GRID_LS, color="k", lw=1.2)


def obs_d(ax, x, z):
    ax.plot(x, z, ls="none", marker="d", ms=9, mfc="none", mec=C_RED, mew=1.2, zorder=1.5)


def obs_x(ax, x, z):
    ax.plot(x, z, ls="none", marker="x", ms=6, mec=C_NAVY, mew=2, zorder=1.6)


# Temperature
ax = rax(0, 0, "Temperature (K)", "Altitude (m)")
for x, z in [(to1_x, to1_z), (to2_x, to2_z), (to3_x, to3_z), (to4_x, to4_z), (to5_x, to5_z)]:
    oline(ax, x, z)
sline(ax, tm_navy_x, tm_mag_z, C_NAVY)
sline(ax, tm_mag_x, tm_mag_z, C_MAG)
sline(ax, tm_red_x, tm_grn_z, C_RED)
sline(ax, tm_blk_x, tm_grn_z, C_BLK)
sline(ax, tm_grn_x, tm_grn_z, C_GRN)
sline(ax, tm_cyan_x, tm_cyan_z, C_CYAN)
ax.set_xlim(245, 275)
ax.set_xticks(range(245, 276, 5))
finish(ax)

# Relative humidity
ax = rax(1, 0, "Relative Humidity (%)", "Altitude (m)")
for x, z in [(ro1_x, ro1_z), (ro2_x, ro2_z), (ro3_x, ro3_z), (ro4_x, ro4_z)]:
    oline(ax, x, z)
sline(ax, rh_navy_x, rh_navy_z, C_NAVY)
sline(ax, rh_mag_x, rh_mag_z, C_MAG)
sline(ax, rh_blk_x, rh_red_z, C_BLK)
sline(ax, rh_red_x, rh_red_z, C_RED)
sline(ax, rh_grn_x, rh_grn_z, C_GRN)
sline(ax, rh_cyan_x, rh_cyan_z, C_CYAN)
ax.set_xlim(0, 100)
ax.set_xticks(range(0, 101, 20))
finish(ax)

# Cloud number density
ax = rax(0, 1, "Cloud Number Density (#/cm$^3$)", "Altitude (km)", logx=True)
obs_d(ax, cn_obs_x, cn_obs_z)
obs_x(ax, cn_x_x, cn_x_z)
sline(ax, cn_cyan_x, cn_cyan_z, C_CYAN)
sline(ax, cn_navy_x, cn_navy_z, C_NAVY)
sline(ax, cn_mag_x, cn_mag_z, C_MAG)
sline(ax, cn_red_x, cn_red_z, C_RED)
sline(ax, cn_blk_x, cn_blk_z, C_BLK)
sline(ax, cn_grn_x, cn_grn_z, C_GRN)
ax.set_xlim(0.1, 1000)
ax.set_xticks([0.1, 1, 10, 100, 1000])
finish(ax)
ax.grid(True, which="minor", axis="x", ls=(0, (1, 7)), color="0.25", lw=1.0)
ax.tick_params(which="minor", length=4)

# Cloud ice number density
ax = rax(1, 1, "Cloud Ice Number Density (#/L)", "Altitude (km)", logx=True)
obs_d(ax, ci_obs_x, ci_obs_z)
obs_x(ax, ci_x_x, ci_x_z)
sline(ax, ci_navy_x, ci_navy_z, C_NAVY)
sline(ax, ci_mag_x, ci_mag_z, C_MAG)
sline(ax, ci_red_x, ci_red_z, C_RED)
sline(ax, ci_blk_x, ci_blk_z, C_BLK)
sline(ax, ci_grn_x, ci_grn_z, C_GRN)
ax.set_xlim(1e-2, 1e4)
ax.set_xticks([1e-2, 1, 1e2, 1e4])
ax.xaxis.set_minor_locator(NullLocator())
finish(ax)

# Graupel
ax = rax(0, 2, "Graupel Density (#/L)", "Altitude (km)", logx=True)
obs_d(ax, gs_obs_x, gs_obs_z)
obs_x(ax, gs_x_x, gs_x_z)
sline(ax, gr_navy_x, gr_navy_z, C_NAVY)
sline(ax, gr_mag_x, gr_mag_z, C_MAG)
sline(ax, gr_red_x, gr_red_z, C_RED)
sline(ax, gr_blk_x, gr_blk_z, C_BLK)
sline(ax, gr_grn_x, gr_grn_z, C_GRN)
ax.set_xlim(1e-4, 1e4)
ax.set_xticks([1e-4, 1e-2, 1, 1e2, 1e4])
ax.xaxis.set_minor_locator(NullLocator())
finish(ax)

# Snow
ax = rax(1, 2, "Snow Number Density (#/L)", "Altitude (km)", logx=True)
obs_d(ax, gs_obs_x, gs_obs_z)
obs_x(ax, gs_x_x, gs_x_z)
sline(ax, sn_navy1_x, sn_navy1_z, C_NAVY)
sline(ax, sn_navy2_x, sn_navy2_z, C_NAVY)
sline(ax, sn_mag_x, sn_mag_z, C_MAG)
sline(ax, sn_red_x, sn_red_z, C_RED)
sline(ax, sn_blk_x, sn_blk_z, C_BLK)
sline(ax, sn_grn_x, sn_grn_z, C_GRN)
ax.set_xlim(1e-4, 1e4)
ax.set_xticks([1e-4, 1e-2, 1, 1e2, 1e4])
ax.xaxis.set_minor_locator(NullLocator())
finish(ax)

# Ice crystal effective radius
ax = rax(0, 3, "Ice Crystal Effective Radius (microns)", "Altitude (km)")
obs_d(ax, ir_obs_x, ir_obs_z)
obs_x(ax, ir_x_x, ir_x_z)
sline(ax, ir_navy_x, ir_navy_z, C_NAVY)
sline(ax, ir_mag_x, ir_mag_z, C_MAG)
sline(ax, ir_red_x, ir_red_z, C_RED)
sline(ax, ir_blk_x, ir_blk_z, C_BLK)
sline(ax, ir_grn_x, ir_grn_z, C_GRN)
sline(ax, ir_cyan_x, ir_cyan_z, C_CYAN, lw=3)
ax.set_xlim(0, 400)
ax.set_xticks(range(0, 401, 100))
finish(ax)

# Liquid cloud effective radius
ax = rax(1, 3, "Liquid Cloud Effective Radius (microns)", "Altitude (m)")
obs_d(ax, lr_obs_x, lr_obs_z)
obs_x(ax, lr_x_x, lr_x_z)
sline(ax, lr_navy_x, lr_navy_z, C_NAVY)
sline(ax, lr_mag_x, lr_mag_z, C_MAG)
sline(ax, lr_grn_x, lr_grn_z, C_GRN)
sline(ax, lr_cyan_x, lr_cyan_z, C_CYAN)
sline(ax, lr_blk_x, lr_blk_z, C_BLK)
sline(ax, lr_red_x, lr_red_z, C_RED)
ax.set_xlim(0, 40)
ax.set_xticks(range(0, 41, 10))
finish(ax)

fig.savefig("out.png", dpi=100, facecolor=BG)
